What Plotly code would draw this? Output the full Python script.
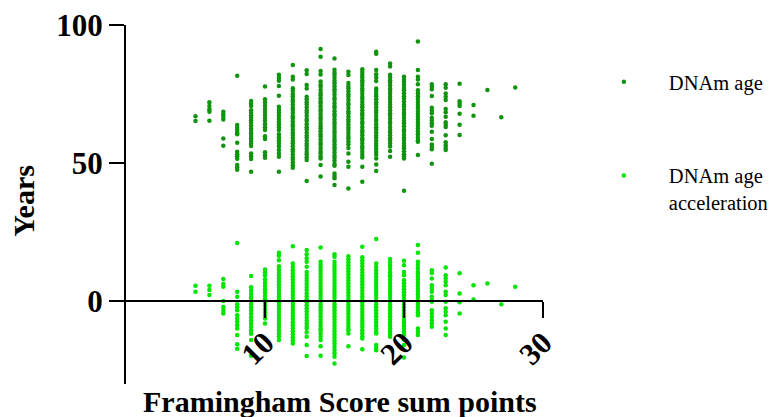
import plotly.graph_objects as go

# Framingham score (x categories)
scores = [5, 6, 7, 8, 9, 10, 11, 12, 13, 14, 15, 16, 17, 18, 19, 20, 21, 22, 23, 24, 25, 26, 27, 28]

# DNAm age per score column (years)
age_05 = [67.0, 65.2]
age_06 = [72.0, 70.7, 69.5, 68.6, 65.3]
age_07 = [68.6, 67.7, 66.8, 65.8, 58.9, 56.3]
age_08 = [81.6, 63.8, 62.8, 62.0, 61.1, 60.4, 57.4, 54.1, 53.2, 52.5, 51.6, 49.3, 48.4, 47.6]
age_09 = [72.5, 71.6, 70.7, 69.1, 68.2, 67.3, 66.4, 65.5, 64.6, 63.6, 62.5, 61.6, 60.7, 59.8, 58.9, 58.0, 57.0, 56.2, 53.5, 52.5, 51.5, 46.9]
age_10 = [77.7, 73.1, 72.0, 70.8, 69.6, 68.5, 67.4, 66.3, 65.2, 64.1, 63.0, 62.0, 59.7, 58.7, 53.9, 52.8, 51.9]
age_11 = [82.0, 80.9, 79.8, 77.9, 74.4, 70.4, 69.3, 68.2, 67.1, 66.0, 65.0, 64.0, 63.0, 62.0, 60.4, 59.3, 58.2, 57.1, 56.0, 54.7, 53.5, 52.3, 46.9]
age_12 = [85.5, 81.3, 80.3, 77.1, 76.2, 75.0, 74.1, 73.0, 72.2, 71.1, 70.0, 69.2, 68.1, 67.0, 66.2, 65.1, 64.0, 63.2, 62.1, 61.0, 60.2, 59.1, 58.0, 57.2, 56.1, 55.0, 54.2, 53.1, 52.0, 51.2, 50.1, 49.2, 48.3]
age_13 = [83.6, 82.3, 78.3, 77.0, 74.0, 73.1, 72.0, 71.2, 70.1, 69.0, 68.2, 67.1, 66.0, 65.2, 64.1, 63.0, 62.2, 61.1, 60.0, 59.2, 58.1, 57.0, 56.2, 55.1, 54.0, 53.2, 52.1, 51.1, 43.5]
age_14 = [91.3, 88.5, 83.3, 82.1, 79.5, 78.4, 77.6, 76.5, 75.4, 74.6, 73.5, 72.4, 71.6, 70.5, 69.4, 68.6, 67.5, 66.4, 65.6, 64.5, 63.4, 62.6, 61.5, 60.4, 59.6, 58.5, 57.4, 56.6, 55.5, 54.4, 53.6, 52.5, 51.7, 49.3, 45.1]
age_15 = [87.9, 83.8, 82.7, 81.9, 80.8, 79.7, 78.9, 77.8, 76.7, 75.9, 74.8, 73.7, 72.9, 71.8, 70.7, 69.9, 68.8, 67.7, 66.9, 65.8, 64.7, 63.9, 62.8, 61.7, 60.9, 59.8, 58.7, 57.9, 56.8, 55.7, 54.9, 53.8, 52.7, 51.9, 50.8, 49.7, 49.0, 46.2, 45.3, 44.5, 42.1]
age_16 = [83.1, 81.9, 79.0, 77.9, 77.0, 75.9, 74.8, 74.0, 72.9, 71.8, 71.0, 69.9, 68.8, 68.0, 66.9, 65.8, 65.0, 63.9, 62.8, 62.0, 60.9, 59.8, 59.0, 57.9, 56.8, 55.5, 53.5, 50.5, 48.7, 40.8]
age_17 = [84.0, 83.0, 82.0, 81.1, 80.0, 79.2, 78.1, 77.0, 76.2, 75.1, 74.0, 73.2, 72.1, 71.0, 70.2, 69.1, 68.0, 67.2, 66.1, 65.0, 64.2, 63.1, 62.0, 61.2, 60.1, 59.0, 58.2, 57.1, 56.0, 55.2, 54.1, 53.0, 52.0, 48.7, 43.2]
age_18 = [90.3, 89.6, 83.7, 82.2, 81.0, 79.7, 77.0, 76.1, 75.0, 74.2, 73.1, 72.0, 71.2, 70.1, 69.0, 68.2, 67.1, 66.0, 65.2, 64.1, 63.0, 62.2, 61.1, 60.0, 59.2, 58.1, 57.0, 56.2, 55.1, 54.0, 53.0, 51.7, 49.5, 47.1]
age_19 = [86.1, 85.0, 82.0, 81.1, 80.0, 79.2, 78.1, 77.0, 76.2, 75.1, 74.0, 73.2, 72.1, 71.0, 70.2, 69.1, 68.0, 67.2, 66.1, 65.0, 64.2, 63.1, 62.0, 61.2, 60.1, 59.0, 58.2, 57.1, 56.0, 54.4, 52.3]
age_20 = [81.3, 80.2, 79.4, 78.3, 77.2, 76.4, 75.3, 74.2, 73.4, 72.3, 71.2, 70.4, 69.3, 68.2, 67.4, 66.3, 65.2, 64.4, 63.3, 62.2, 61.4, 60.3, 59.2, 58.4, 57.3, 56.2, 55.4, 54.3, 53.2, 52.4, 51.7, 40.0]
age_21 = [94.0, 83.7, 81.3, 80.3, 78.5, 76.4, 75.3, 74.2, 73.2, 72.1, 71.0, 70.0, 68.9, 67.8, 66.8, 65.7, 64.6, 63.6, 62.5, 61.4, 60.4, 59.3, 58.2, 57.7, 52.9]
age_22 = [78.5, 77.6, 76.7, 74.3, 70.0, 69.0, 68.0, 66.4, 65.4, 64.4, 63.5, 61.3, 58.7, 56.7, 55.8, 55.0, 49.8]
age_23 = [78.5, 77.3, 75.2, 74.0, 72.8, 69.6, 68.4, 66.8, 64.8, 63.9, 63.1, 60.1, 57.5, 56.5, 55.5, 54.7]
age_24 = [78.7, 72.4, 71.5, 70.7, 67.9, 63.9, 60.2]
age_25 = [71.0, 67.1]
age_26 = [76.5]
age_27 = [66.6]
age_28 = [77.4]

# DNAm age acceleration per score column (years)
acc_05 = [5.6, 3.4]
acc_06 = [5.6, 4.0, 2.2]
acc_07 = [8.0, 6.2, 5.2, 0.1, -2.1, -3.3, -4.5]
acc_08 = [21.1, 3.4, 1.6, -1.1, -2.2, -3.3, -5.1, -6.3, -7.5, -8.7, -9.9, -12.3, -15.6, -17.2]
acc_09 = [9.1, 5.0, 3.8, 2.6, 1.4, 0.2, -1.0, -2.2, -3.4, -4.6, -5.8, -7.0, -8.2, -9.4, -10.6, -11.8, -14.1, -19.8]
acc_10 = [11.5, 10.4, 9.4, 7.9, 6.7, 5.5, 4.3, 3.1, 1.9, 0.7, -0.5, -1.7, -2.9, -4.1, -5.3, -6.3, -8.1]
acc_11 = [17.5, 16.4, 14.8, 12.6, 11.5, 10.4, 9.3, 8.2, 7.1, 6.0, 4.9, 3.8, 2.7, 1.6, 0.5, -0.6, -1.7, -2.8, -3.9, -5.0, -6.1, -7.2, -8.3, -9.4, -10.5, -11.6, -12.7, -14.1]
acc_12 = [19.9, 13.6, 12.4, 11.2, 10.0, 8.9, 7.8, 6.7, 5.6, 4.5, 3.4, 2.3, 1.2, 0.1, -1.0, -2.1, -3.2, -4.3, -5.4, -6.5, -7.6, -8.7, -9.8, -10.9, -12.0, -13.1, -14.2, -15.3]
acc_13 = [18.5, 17.0, 15.5, 14.3, 12.5, 10.6, 9.5, 8.4, 7.3, 6.2, 5.1, 4.0, 2.9, 1.8, 0.7, -0.4, -1.5, -2.6, -3.7, -4.8, -5.9, -7.0, -8.1, -9.2, -9.9, -11.3, -12.9, -15.9, -19.9]
acc_14 = [19.4, 14.3, 13.2, 12.1, 11.0, 9.9, 8.8, 7.7, 6.6, 5.5, 4.4, 3.3, 2.2, 1.1, 0.0, -1.1, -2.2, -3.3, -4.4, -5.5, -6.6, -7.7, -8.8, -9.9, -10.5, -11.7, -12.9, -14.1, -16.3, -19.8]
acc_15 = [17.0, 16.1, 14.3, 13.2, 12.1, 11.0, 9.9, 8.8, 7.7, 6.6, 5.5, 4.4, 3.3, 2.2, 1.1, 0.0, -1.1, -2.2, -3.3, -4.4, -5.5, -6.6, -7.7, -8.8, -9.9, -11.0, -12.1, -13.2, -14.3, -15.3, -16.5, -17.7, -18.9, -20.1, -22.6]
acc_16 = [16.3, 15.2, 14.1, 13.0, 11.9, 10.8, 9.7, 8.6, 7.5, 6.4, 5.3, 4.2, 3.1, 2.0, 0.9, -0.2, -1.3, -2.4, -3.5, -4.6, -5.7, -6.8, -7.9, -9.0, -10.1, -10.5, -11.7, -16.3]
acc_17 = [19.7, 15.9, 14.8, 13.7, 12.6, 11.5, 10.4, 9.3, 8.2, 7.1, 6.0, 4.9, 3.8, 2.7, 1.6, 0.5, -0.6, -1.7, -2.8, -3.9, -5.0, -6.1, -7.2, -8.3, -9.4, -10.5, -11.6, -12.7, -13.5, -17.4]
acc_18 = [22.5, 13.6, 12.4, 11.2, 10.0, 8.8, 7.7, 6.6, 5.5, 4.4, 3.3, 2.2, 1.1, 0.0, -1.1, -2.2, -3.3, -4.4, -5.5, -6.6, -7.7, -8.8, -9.9, -11.0, -11.7, -15.9, -17.0, -17.8]
acc_19 = [15.3, 14.1, 12.9, 11.7, 10.5, 9.4, 8.8, 7.7, 6.6, 5.5, 4.4, 3.3, 2.2, 1.1, 0.0, -1.1, -2.2, -3.3, -4.4, -5.5, -6.6, -7.7, -8.8, -9.9, -11.0, -12.1, -12.9]
acc_20 = [14.6, 13.0, 10.6, 9.4, 7.6, 6.5, 5.4, 4.3, 3.2, 2.1, 1.0, -0.1, -1.2, -2.3, -3.4, -4.5, -5.6, -6.7, -7.8, -8.9, -10.0, -11.1, -12.2, -14.0, -15.9, -20.4]
acc_21 = [20.3, 17.5, 14.3, 13.1, 11.8, 10.6, 10.0, 8.9, 7.8, 6.7, 5.6, 4.5, 3.4, 2.3, 1.2, 0.1, -1.0, -2.1, -3.2, -4.1, -5.1, -9.9, -11.1, -12.3]
acc_22 = [11.2, 10.2, 8.2, 5.8, 4.6, 3.4, 1.6, 0.4, -0.2, -3.3, -4.5, -5.7, -6.9, -8.1, -9.3]
acc_23 = [12.2, 9.4, 8.2, 7.0, 5.8, 3.4, 2.2, -0.2, -2.6, -3.8, -5.1, -7.5, -9.9, -12.3]
acc_24 = [10.1, 2.8, -0.4, -4.5]
acc_25 = [5.8, 0.6]
acc_26 = [6.4]
acc_27 = [-1.1]
acc_28 = [5.2]

age_columns = [age_05, age_06, age_07, age_08, age_09, age_10, age_11, age_12, age_13, age_14, age_15, age_16,
               age_17, age_18, age_19, age_20, age_21, age_22, age_23, age_24, age_25, age_26, age_27, age_28]
acc_columns = [acc_05, acc_06, acc_07, acc_08, acc_09, acc_10, acc_11, acc_12, acc_13, acc_14, acc_15, acc_16,
               acc_17, acc_18, acc_19, acc_20, acc_21, acc_22, acc_23, acc_24, acc_25, acc_26, acc_27, acc_28]

series_names = ["DNAm age", "DNAm age<br>acceleration"]
series_colors = ["#109410", "#00e600"]


def flatten(columns):
    xs, ys = [], []
    for s, col in zip(scores, columns):
        for v in col:
            xs.append(s)
            ys.append(v)
    return xs, ys


fig = go.Figure()
for i, cols in enumerate([age_columns, acc_columns]):
    xs, ys = flatten(cols)
    fig.add_trace(go.Scatter(
        x=xs, y=ys, mode="markers", name=series_names[i], legendgroup=str(i),
        marker=dict(color=series_colors[i], size=4.5, line=dict(width=0)),
        hoverinfo="x+y",
    ))

serif_bold = dict(family="Liberation Serif", size=31, color="black", weight="bold")

# page body adds an 8px offset, so the figure is 8px smaller with 8px less top/left margin
fig.update_layout(
    width=771, height=409,
    margin=dict(l=118, r=236, t=17, b=33, autoexpand=False),
    paper_bgcolor="white", plot_bgcolor="white",
    showlegend=True,
    legend=dict(
        x=1.086, y=0.897, xanchor="left", yanchor="top",
        font=dict(family="Liberation Serif", size=20.5, color="black"),
        tracegroupgap=64, valign="top", itemwidth=80,
        bgcolor="rgba(0,0,0,0)",
    ),
    xaxis=dict(
        range=[0, 30], tickvals=[10, 20, 30], tickangle=-45,
        showline=True, linecolor="black", linewidth=2,
        ticks="outside", ticklen=16, tickwidth=2, tickcolor="black",
        showgrid=False, zeroline=False, automargin=False,
        anchor="free", position=30 / 130, layer="above traces",
        tickfont=serif_bold, ticklabelstandoff=-6, ticklabeloverflow="allow",
    ),
    yaxis=dict(
        range=[-30, 100], tickvals=[0, 50, 100],
        showline=True, linecolor="black", linewidth=2,
        ticks="outside", ticklen=15, tickwidth=2, tickcolor="black",
        showgrid=False, zeroline=False, automargin=False,
        tickfont=serif_bold, ticklabeloverflow="allow",
    ),
    annotations=[
        dict(text="Framingham Score sum points", xref="paper", yref="paper",
             x=0.513, y=-0.05, xanchor="center", yanchor="middle", showarrow=False,
             font=dict(family="Liberation Serif", size=30, color="black", weight="bold")),
        dict(text="Years", xref="paper", yref="paper", textangle=-90,
             x=-0.245, y=0.51, xanchor="center", yanchor="middle", showarrow=False,
             font=dict(family="Liberation Serif", size=30, color="black", weight="bold")),
    ],
)

fig.write_html("out.html")
